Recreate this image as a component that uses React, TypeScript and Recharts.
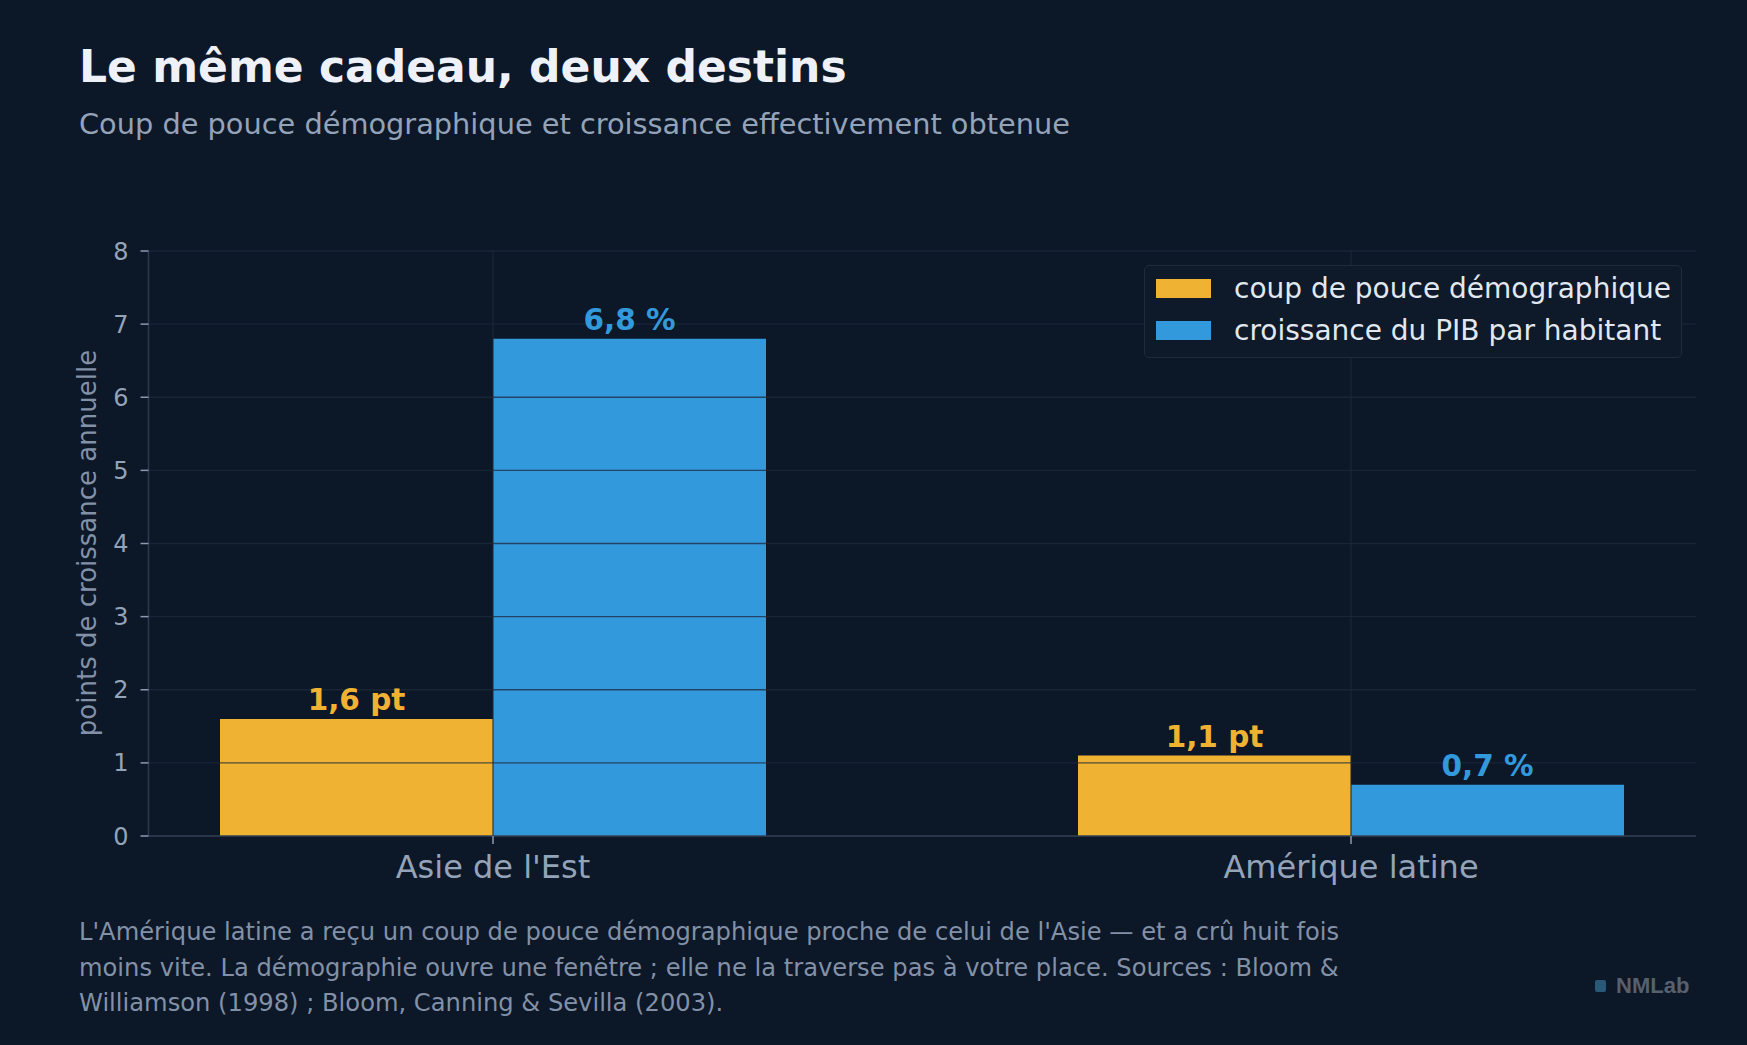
import React from 'react';
import { BarChart, Bar, XAxis, YAxis, Legend, LabelList, ReferenceLine } from 'recharts';

const REGIONS = ["Asie de l'Est", 'Amérique latine'];
const DEMO_BOOST = [1.6, 1.1];
const GDP_GROWTH = [6.8, 0.7];
const Y_TICKS = [0, 1, 2, 3, 4, 5, 6, 7, 8];

const SERIES = [
  { key: 'boost', name: 'coup de pouce démographique', color: '#f0b232', unit: 'pt' },
  { key: 'growth', name: 'croissance du PIB par habitant', color: '#3399dd', unit: '%' },
];

const BG = '#0c1727';
const FONT = '"DejaVu Sans", sans-serif';
const GRID = '#1e293b';

const data = REGIONS.map((region, i) => ({
  region,
  boost: DEMO_BOOST[i],
  growth: GDP_GROWTH[i],
}));

const fmt = (unit: string) => (v: any) => `${Number(v).toFixed(1).replace('.', ',')} ${unit}`;

const LegendBox = () => (
  <div
    style={{
      width: 538,
      height: 93,
      boxSizing: 'border-box',
      border: '1.5px solid #1f2a3b',
      borderRadius: 5,
      background: '#0e1929',
      padding: '1px 0 0 11px',
      fontFamily: FONT,
    }}
  >
    {SERIES.map((s) => (
      <div key={s.key} style={{ display: 'flex', alignItems: 'center', height: 42 }}>
        <div style={{ width: 55, height: 19, background: s.color }} />
        <span style={{ marginLeft: 23, fontSize: 28, color: '#e2e8f0', whiteSpace: 'nowrap' }}>{s.name}</span>
      </div>
    ))}
  </div>
);

const App: React.FC = () => {
  return (
    <div
      style={{
        position: 'absolute',
        left: 0,
        top: 0,
        width: 1747,
        height: 1045,
        background: BG,
        fontFamily: FONT,
        overflow: 'hidden',
      }}
    >
      <div
        style={{
          position: 'absolute',
          left: 79,
          top: 44.5,
          fontSize: 44,
          lineHeight: 1,
          fontWeight: 'bold',
          color: '#eef2f8',
          whiteSpace: 'nowrap',
        }}
      >
        Le même cadeau, deux destins
      </div>
      <div
        style={{
          position: 'absolute',
          left: 79,
          top: 110,
          fontSize: 28.8,
          lineHeight: 1,
          color: '#94a3b8',
          whiteSpace: 'nowrap',
        }}
      >
        Coup de pouce démographique et croissance effectivement obtenue
      </div>

      <div style={{ position: 'absolute', left: 0, top: 0 }}>
        <BarChart
          width={1747}
          height={1045}
          data={data}
          barGap={0}
          margin={{ top: 251, right: 51, left: 0, bottom: 149 }}
        >
          <XAxis
            dataKey="region"
            type="category"
            padding={{ left: -84.5, right: -84 }}
            height={60}
            axisLine={{ stroke: '#334155', strokeWidth: 1.5 }}
            tickLine={{ stroke: '#8b9ab0', strokeWidth: 1.5 }}
            tickSize={8}
            tickMargin={11.5}
            tick={{ fill: '#94a3b8', fontSize: 32, fontFamily: FONT }}
          />
          <YAxis
            width={148.5}
            domain={[0, 8]}
            ticks={Y_TICKS}
            interval={0}
            axisLine={{ stroke: '#2c3a50', strokeWidth: 1.5 }}
            tickLine={{ stroke: '#8b9ab0', strokeWidth: 1.5 }}
            tickSize={8}
            tickMargin={12}
            tick={{ fill: '#94a3b8', fontSize: 24, fontFamily: FONT }}
          />
          {SERIES.map((s) => (
            <Bar
              key={s.key}
              dataKey={s.key}
              name={s.name}
              fill={s.color}
              barSize={273}
              isAnimationActive={false}
            >
              <LabelList
                dataKey={s.key}
                position="top"
                offset={9}
                formatter={fmt(s.unit)}
                fill={s.color}
                fontSize={29.5}
                fontWeight="bold"
                fontFamily={FONT}
              />
            </Bar>
          ))}
          {Y_TICKS.filter((t) => t > 0).map((t) => (
            <ReferenceLine key={`y${t}`} y={t} stroke={GRID} strokeOpacity={0.75} strokeWidth={1.4} />
          ))}
          {REGIONS.map((r) => (
            <ReferenceLine key={`x${r}`} x={r} stroke={GRID} strokeOpacity={0.75} strokeWidth={1.4} />
          ))}
          <Legend
            layout="horizontal"
            align="center"
            verticalAlign="middle"
            content={() => <LegendBox />}
            wrapperStyle={{ position: 'absolute', top: 265, left: 1144, width: 538, height: 93 }}
          />
        </BarChart>
      </div>

      <div
        style={{
          position: 'absolute',
          left: 87,
          top: 543,
          transform: 'translate(-50%, -50%) rotate(-90deg)',
          fontSize: 26,
          color: '#8391a7',
          whiteSpace: 'nowrap',
        }}
      >
        points de croissance annuelle
      </div>

      <div
        style={{
          position: 'absolute',
          left: 79,
          top: 915,
          fontSize: 24.2,
          lineHeight: '35.5px',
          color: '#8391a7',
          whiteSpace: 'nowrap',
        }}
      >
        L'Amérique latine a reçu un coup de pouce démographique proche de celui de l'Asie — et a crû huit fois
        <br />
        moins vite. La démographie ouvre une fenêtre ; elle ne la traverse pas à votre place. Sources : Bloom &amp;
        <br />
        Williamson (1998) ; Bloom, Canning &amp; Sevilla (2003).
      </div>

      <div
        style={{
          position: 'absolute',
          left: 1595,
          top: 973,
          display: 'flex',
          alignItems: 'center',
          fontFamily: '"Liberation Sans", Arial, sans-serif',
          fontWeight: 'bold',
          fontSize: 22,
          color: '#56606f',
        }}
      >
        <div style={{ width: 11, height: 12, background: '#2a5877', borderRadius: 2, marginRight: 10 }} />
        NMLab
      </div>
    </div>
  );
};

export default App;
